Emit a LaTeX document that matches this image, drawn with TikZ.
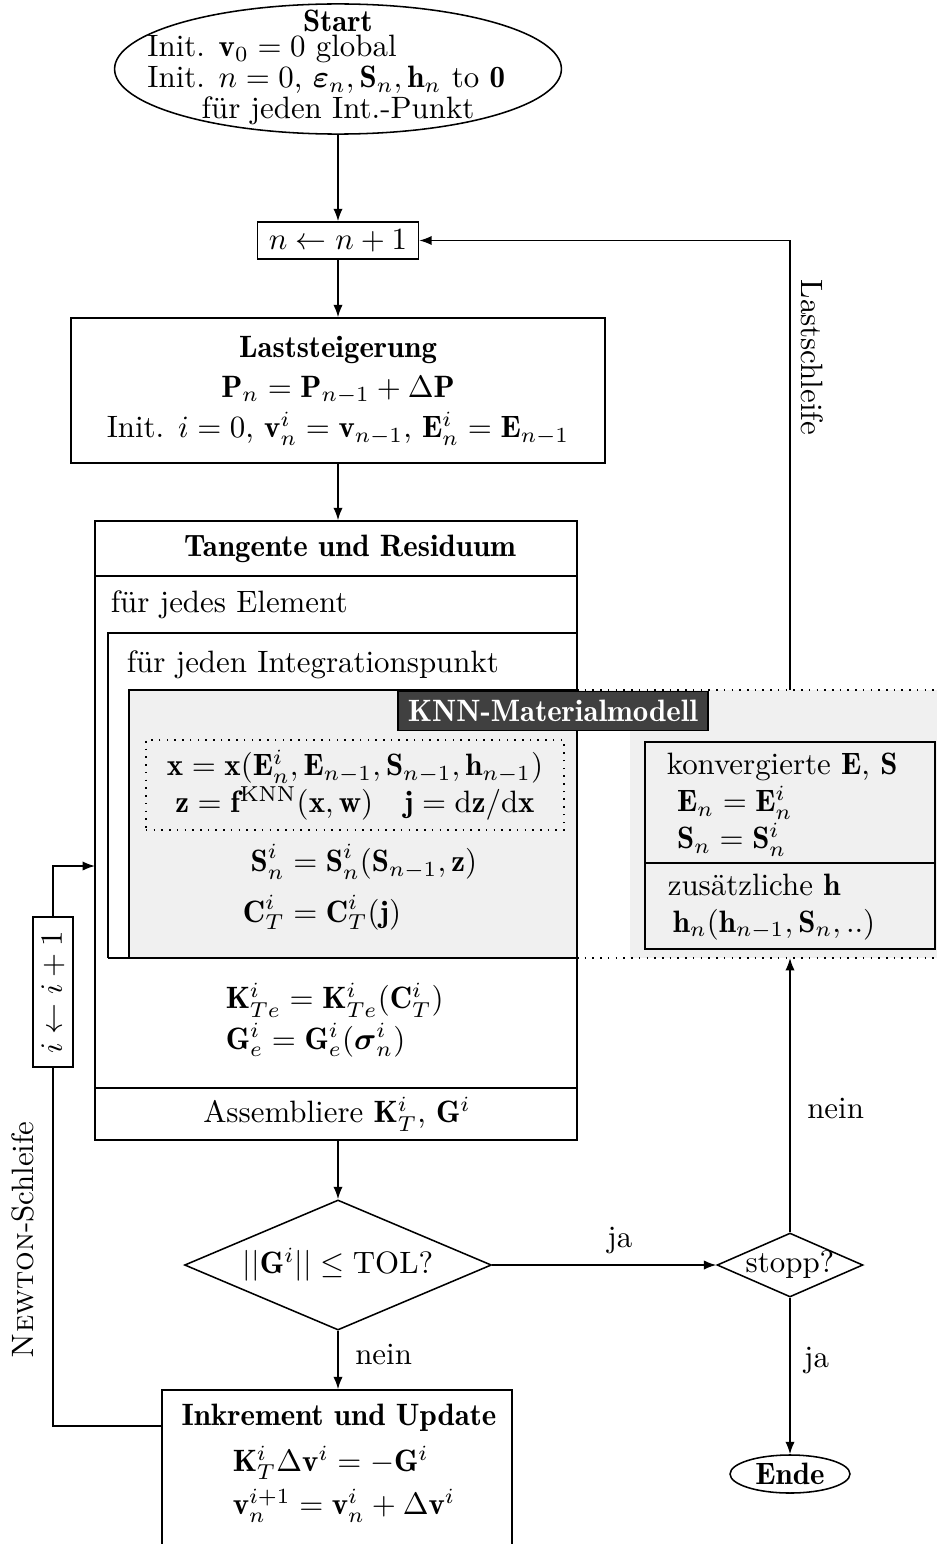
\documentclass[tikz,border=0pt]{standalone}
\usepackage{amsmath,amssymb}
\usepackage{fontspec}
\usepackage{tikz}
\usetikzlibrary{shapes.geometric,arrows.meta}
\newfontfamily\demi{lmromandemi10-regular.otf}

\tikzset{
  block/.style={draw, rectangle, inner sep=0pt},
  decision/.style={draw, diamond, inner sep=0pt},
  terminal/.style={draw, ellipse, inner sep=0pt},
  plain/.style={inner sep=0pt},
}

\begin{document}
\begin{tikzpicture}[x=0.3236pt, y=-0.3236pt, line width=0.5pt, >={Latex[length=4pt, width=3pt]}]
  \useasboundingbox (0,0) rectangle (937,1544);

  % grey area of the material model
  \fill[gray!12] (129,690) rectangle (937,958);
  \fill[white] (577,730) rectangle (630,958);
  \draw (577,690) -- (129,690) -- (129,958);
  \draw[dotted] (577,690) -- (937,690);
  \draw[dotted] (577,958) -- (937,958);

  % main column
  \node[terminal, minimum width=144.6pt, minimum height=42.1pt,
        label={[align=center, yshift=0.5pt, font=\fontsize{10pt}{8.3pt}\selectfont]center:{\demi Start\\
        \makebox[115.5pt][l]{Init. $\mathbf v_0 = 0$ global}\kern7.8pt\\
        \makebox[115.5pt][l]{Init. $n=0$, $\boldsymbol\varepsilon_n, \mathbf S_n, \mathbf h_n$ to $\mathbf 0$}\kern7.8pt\\
        für jeden Int.-Punkt}}] (start) at (338,69) {};
  \node[block, minimum width=52.1pt, minimum height=12pt] (nbox) at (338,240.5) {$n \leftarrow n+1$};
  \node[block, minimum width=172.8pt, minimum height=46.9pt, align=center] (last) at (338,390.5)
    {{\demi Laststeigerung}\\[1pt]
     $\mathbf P_n = \mathbf P_{n-1} + \Delta\mathbf P$\\[1pt]
     Init. $i=0$, $\mathbf v_n^i = \mathbf v_{n-1}$, $\mathbf E_n^i = \mathbf E_{n-1}$};

  % tangent and residual
  \node[block, minimum width=156pt, minimum height=200.3pt] (tang) at (336,830.5) {};
  \draw (95,576) -- (577,576);
  \draw (95,1088) -- (577,1088);
  \draw (108,958) -- (108,633) -- (577,633);
  \draw (108,958) -- (577,958);
  \node (tanghead) at (350,549) {\demi Tangente und Residuum};
  \node[plain, anchor=west] (elem) at (110,605) {für jedes Element};
  \node[plain, anchor=west] (ip) at (126,665) {für jeden Integrationspunkt};
  \node[block, dotted, minimum width=135.3pt, minimum height=29.1pt, align=center] (ann) at (355,785)
    {$\mathbf x = \mathbf x(\mathbf E_n^i, \mathbf E_{n-1}, \mathbf S_{n-1}, \mathbf h_{n-1})$\\
     $\mathbf z = \mathbf f^{\mathrm{KNN}}(\mathbf x, \mathbf w)\quad \mathbf j = \mathrm d\mathbf z/\mathrm d\mathbf x$};
  \node (stress) at (360,889)
    {$\begin{aligned}\mathbf S_n^i &= \mathbf S_n^i(\mathbf S_{n-1}, \mathbf z)\\
      \mathbf C_T^i &= \mathbf C_T^i(\mathbf j)\end{aligned}$};
  \node[plain, anchor=west, align=left] (elemmat) at (225,1020)
    {$\mathbf K_{Te}^i = \mathbf K_{Te}^i(\mathbf C_T^i)$\\[1pt]
     $\mathbf G_e^i = \mathbf G_e^i(\boldsymbol\sigma_n^i)$};
  \node (assem) at (337,1114) {Assembliere $\mathbf K_T^i$, $\mathbf G^i$};
  \node[fill=black!75, draw=black, text=white, minimum width=100.3pt, minimum height=12.6pt, inner sep=0pt]
    (knn) at (553,711) {\demi KNN-Materialmodell};

  % converged state and history
  \node[block, minimum width=93.8pt, minimum height=39.2pt] (conv) at (790,802.5) {};
  \node[block, minimum width=93.8pt, minimum height=27.8pt] (hist) at (790,906) {};
  \node[plain, anchor=north west, align=left] (convtext) at (666,752)
    {konvergierte $\mathbf E$, $\mathbf S$\\
     \,\,$\mathbf E_n = \mathbf E_n^i$\\
     \,\,$\mathbf S_n = \mathbf S_n^i$};
  \node[plain, anchor=north west, align=left] (histtext) at (667,873)
    {zusätzliche $\mathbf h$\\
     \,$\mathbf h_n(\mathbf h_{n-1}, \mathbf S_n,..)$};

  % decisions
  \node[decision, minimum width=99.3pt, minimum height=42.1pt,
        label=center:{$||\mathbf G^i|| \leq \mathrm{TOL?}$}] (check) at (338,1265) {};
  \node[decision, minimum width=47.2pt, minimum height=20.7pt,
        label=center:{stopp?}] (stop) at (790,1265) {};
  \node[terminal, minimum width=38.8pt, minimum height=12.3pt,
        label=center:{\demi Ende}] (ende) at (790,1474) {};
  \node[block, minimum width=113.3pt, minimum height=55pt] (upd) at (337,1475) {};
  \node (updhead) at (339,1418) {\demi Inkrement und Update};
  \node[plain, anchor=west, align=left] (updtext) at (232,1484)
    {$\mathbf K_T^i \Delta\mathbf v^i = -\mathbf G^i$\\[2pt]
     $\mathbf v_n^{i+1} = \mathbf v_n^i + \Delta\mathbf v^i$};
  \node[block, rotate=90, minimum width=48.5pt, minimum height=12.9pt] (inc) at (53,992) {$i \leftarrow i+1$};

  \coordinate (ktop) at (790,690);
  \coordinate (kbot) at (790,958);
  \coordinate (updl) at (162,1426);
  \coordinate (tin) at (95,866);

  % connectors
  \draw[->] (start) -- (nbox);
  \draw[->] (nbox) -- (last);
  \draw[->] (last) -- (last |- tang.north);
  \draw[->] (check |- tang.south) -- (check);
  \draw[->] (check) -- node[pos=0.57, above] {ja} (stop);
  \draw[->] (check) -- node[pos=0.4, right, xshift=2pt] {nein} (check |- upd.north);
  \draw[->] (stop) -- node[pos=0.4, right, xshift=1pt] {ja} (ende);
  \draw[->] (stop) -- node[pos=0.45, right, xshift=2pt] {nein} (kbot);
  \draw[->] (ktop) |- node[pos=0.37, rotate=-90, anchor=south] {Lastschleife} (nbox);
  \draw (updl) -| node[pos=0.76, rotate=90, anchor=south, inner sep=6pt] {\textsc{Newton}-Schleife} (inc.west);
  \draw[->] (inc.east) |- (tin);
\end{tikzpicture}
\end{document}
